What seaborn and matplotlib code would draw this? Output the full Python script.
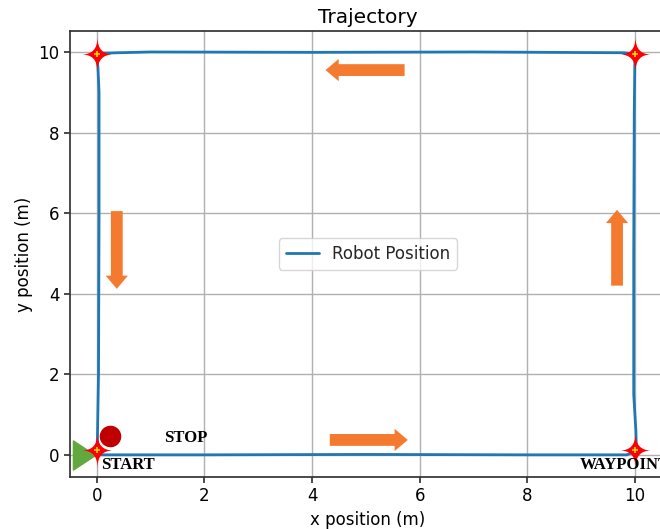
import numpy as np
import pandas as pd
import matplotlib
matplotlib.use("Agg")
import matplotlib.pyplot as plt
import seaborn as sns
from matplotlib.path import Path

# Recorded robot trajectory (m)
traj_x = [0.0, 2.0, 5.0, 8.0, 9.85, 10.03, 10.02, 9.98, 9.98, 9.99, 10.0, 10.01,
          9.8, 7.0, 4.0, 1.0, 0.1, 0.0, 0.02, 0.04, 0.04, 0.03, 0.01, 0.0]
traj_y = [0.0, 0.0, 0.01, 0.0, 0.0, 0.1, 0.6, 1.5, 5.0, 8.5, 9.7, 9.95,
          9.98, 10.0, 9.99, 10.0, 9.97, 9.93, 9.6, 9.0, 6.0, 2.0, 0.4, 0.0]

# Waypoints (corners of the square)
wp_x = [0.0, 10.0, 10.0, 0.0]
wp_y = [0.12, 0.12, 9.95, 9.95]

start_xy = (-0.24, 0.0)
stop_xy = (0.24, 0.47)

# Direction arrows: (tail, head)
arrows = [((4.33, 0.37), (5.78, 0.37)),
          ((9.67, 4.2), (9.67, 6.08)),
          ((5.72, 9.55), (4.25, 9.55)),
          ((0.37, 6.05), (0.37, 4.12))]

labels = [("START", 0.08, -0.25), ("STOP", 1.25, 0.42), ("WAYPOINT", 8.98, -0.25)]

# Four-pointed star marker with concave (curved) sides
c = 0.0
tips = [(0, 1), (0.9, 0), (0, -1), (-0.9, 0), (0, 1)]
ctrl = [(c, c), (c, -c), (-c, -c), (-c, c)]
star_verts = [tips[0]]
star_codes = [Path.MOVETO]
for k in range(4):
    star_verts += [ctrl[k], tips[k + 1]]
    star_codes += [Path.CURVE3, Path.CURVE3]
star = Path(star_verts, star_codes)

# Narrow right-pointing triangle for the start marker
tri = Path([(-0.76, 1), (0.76, 0), (-0.76, -1), (-0.76, 1)],
           [Path.MOVETO, Path.LINETO, Path.LINETO, Path.CLOSEPOLY])

sns.set_theme(style="ticks")
plt.rcParams["font.family"] = ["DejaVu Sans"]

fig = plt.figure(figsize=(6.6, 5.29), dpi=100)
ax = fig.add_axes([70 / 660, 1 - 477 / 529, 596 / 660, 446 / 529])

df = pd.DataFrame({"x": traj_x, "y": traj_y})
sns.lineplot(data=df, x="x", y="y", sort=False, estimator=None, ax=ax,
             color="#1f77b4", linewidth=2, label="Robot Position", zorder=3)

for (tx, ty), (hx, hy) in arrows:
    ax.annotate("", xy=(hx, hy), xytext=(tx, ty),
                arrowprops=dict(width=8.5, headwidth=16, headlength=9.5,
                                shrink=0, color="#f47a30", lw=0), zorder=4)

ax.plot(start_xy[0], start_xy[1], marker=tri, markersize=21, color="#62a83e",
        linestyle="none", zorder=5, clip_on=False)
ax.plot(stop_xy[0], stop_xy[1], marker="o", markersize=14.5, color="#c00000",
        linestyle="none", zorder=5)
ax.plot(wp_x, wp_y, marker=star, markersize=25, color="#ff0000", markeredgewidth=0,
        linestyle="none", zorder=6, clip_on=False)
ax.plot(wp_x, wp_y, marker="+", markersize=5, color="#ffe000", markeredgewidth=1.1,
        linestyle="none", zorder=7, clip_on=False)

for txt, x, y in labels:
    ax.text(x, y, txt, fontsize=12, fontweight="bold", family="Liberation Serif",
            ha="left", va="center", color="black", zorder=8)

ax.set_xlim(-0.5, 10.58)
ax.set_ylim(-0.55, 10.52)
ax.set_xticks([0, 2, 4, 6, 8, 10])
ax.set_yticks([0, 2, 4, 6, 8, 10])
ax.grid(True, color="#b0b0b0", linewidth=1)
ax.set_axisbelow(True)
for s in ax.spines.values():
    s.set_color("#333333")
ax.tick_params(labelsize=12, length=4, color="#333333", labelcolor="black")
ax.set_xlabel("x position (m)", fontsize=12, color="black")
ax.set_ylabel("y position (m)", fontsize=12, color="black")
ax.set_title("Trajectory", fontsize=14.5, color="black")
ax.legend(loc="center", fontsize=12, handlelength=2)

fig.savefig("out.png", dpi=100)
